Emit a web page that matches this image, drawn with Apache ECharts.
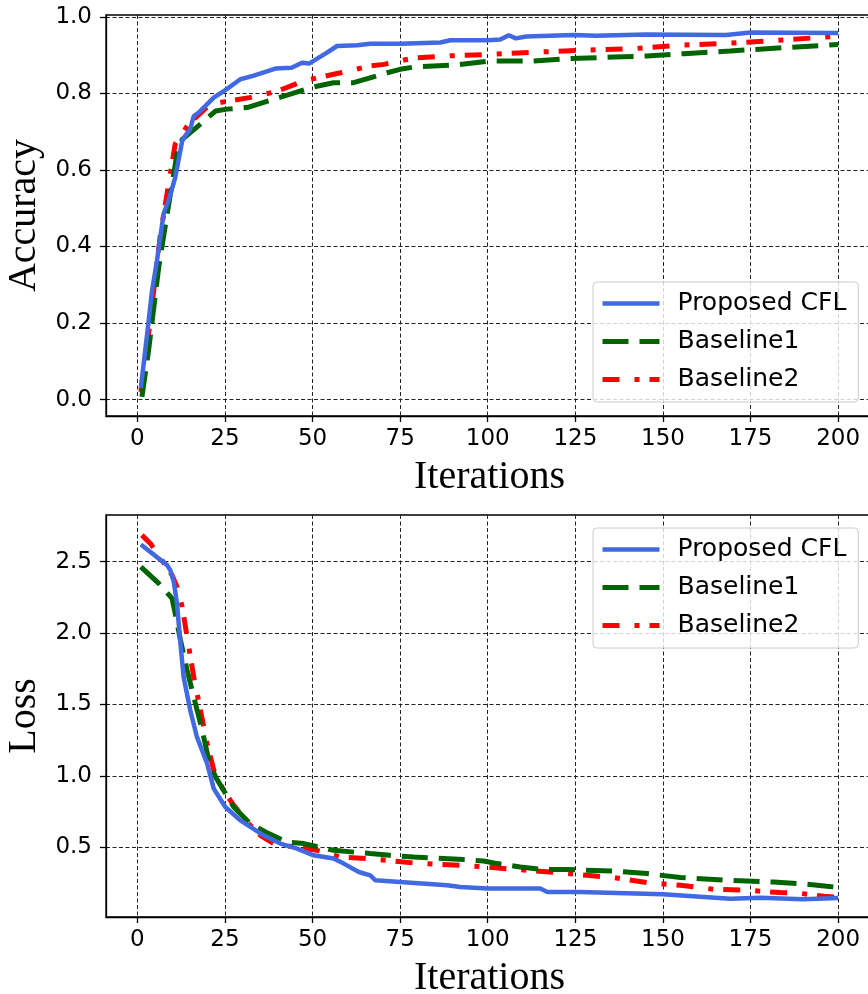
<!DOCTYPE html>
<html>
<head>
<meta charset="utf-8">
<script src="https://cdn.jsdelivr.net/npm/echarts@6/dist/echarts.min.js"></script>
<style>
  html, body { margin: 0; padding: 0; background: #fff; }
  #main { width: 868px; height: 994px; }
</style>
</head>
<body>
<div id="main"></div>
<script>
// 数据: [迭代次数, 数值]
var xTicks = [0, 25, 50, 75, 100, 125, 150, 175, 200];
var accTicks = [0, 0.2, 0.4, 0.6, 0.8, 1.0];
var lossTicks = [0.5, 1.0, 1.5, 2.0, 2.5];
var seriesNames = ['Proposed CFL', 'Baseline1', 'Baseline2'];

var accCfl = [[1,0.03],[2.8,0.172],[4.2,0.285],[5.6,0.363],[7.5,0.486],[8.9,0.52],[10.8,0.58],[12.8,0.676],[13.7,0.69],[15.1,0.707],[16.1,0.741],[17.5,0.75],[21.8,0.789],[25,0.808],[29.4,0.837],[33,0.846],[39.4,0.865],[44,0.867],[47,0.88],[49,0.878],[54,0.906],[57,0.924],[62.7,0.926],[66.5,0.93],[75,0.93],[86.5,0.933],[89.3,0.939],[100,0.939],[103.6,0.941],[106,0.952],[108,0.944],[111,0.949],[124.5,0.953],[131,0.951],[145,0.954],[168,0.953],[175,0.959],[200,0.958]];
var accB1 = [[1.3,0.007],[3.2,0.128],[6.1,0.346],[8.5,0.485],[11.3,0.641],[12.8,0.68],[18,0.72],[22.3,0.754],[25.6,0.759],[31.3,0.763],[38.9,0.785],[50.3,0.817],[56,0.828],[61.7,0.828],[71.3,0.854],[75,0.863],[78.9,0.869],[90.3,0.874],[100.7,0.885],[113,0.885],[123.6,0.891],[136,0.895],[145.4,0.898],[156,0.904],[169.2,0.911],[179.7,0.917],[200,0.928]];
var accB2 = [[1,0.02],[3.2,0.172],[6.6,0.433],[9.4,0.589],[10.8,0.668],[11.7,0.68],[14.6,0.72],[20.8,0.772],[26,0.78],[32,0.789],[40,0.806],[47.5,0.833],[58,0.854],[66.5,0.872],[70.3,0.876],[75,0.885],[79,0.893],[88.4,0.898],[100.7,0.902],[114,0.908],[127.4,0.913],[141.6,0.917],[155,0.926],[168.3,0.931],[179.7,0.937],[196,0.947],[200,0.95]];

var lossCfl = [[1,2.62],[8.5,2.476],[9.4,2.441],[10.4,2.359],[11.3,2.208],[12.3,1.927],[13.2,1.693],[15.1,1.46],[17,1.273],[19.9,1.087],[21.8,0.911],[25.1,0.782],[29.4,0.689],[36,0.584],[40.8,0.526],[45.6,0.491],[50.3,0.444],[56,0.421],[58.9,0.386],[63.2,0.327],[66.5,0.304],[67.9,0.269],[75,0.257],[88.4,0.234],[92.2,0.222],[100,0.211],[115,0.211],[117,0.187],[126.4,0.187],[150,0.171],[169.2,0.14],[177.8,0.147],[190,0.136],[200,0.145]];
var lossB1 = [[1,2.464],[6.1,2.348],[9.9,2.243],[10.8,2.138],[12.3,1.951],[14.2,1.74],[16.1,1.553],[18.5,1.32],[20.4,1.11],[22.3,0.993],[24.6,0.9],[27.5,0.782],[32.2,0.666],[37.5,0.596],[42.7,0.537],[47.5,0.526],[56,0.479],[66.5,0.456],[72,0.444],[78.9,0.432],[93.1,0.414],[98.8,0.404],[102.7,0.386],[109.3,0.362],[116,0.344],[122.6,0.344],[135.9,0.334],[145.4,0.316],[155,0.288],[169.2,0.269],[181.6,0.257],[191.1,0.241],[196.8,0.227],[200,0.22]];
var lossB2 = [[1.3,2.686],[3.7,2.628],[7,2.511],[9.9,2.406],[11.3,2.324],[12.8,2.184],[14.2,1.974],[16.1,1.693],[18,1.46],[19.9,1.227],[21.8,1.04],[24.6,0.899],[27.5,0.794],[31.3,0.677],[35.1,0.584],[38.9,0.526],[44.6,0.502],[51.3,0.479],[57.9,0.432],[65.5,0.421],[72.5,0.406],[78.9,0.39],[92.2,0.374],[99.8,0.362],[107.4,0.346],[119.8,0.323],[128.3,0.304],[135.9,0.288],[145.4,0.253],[155,0.234],[164.5,0.206],[174,0.199],[183.5,0.183],[188.3,0.18],[195.9,0.157],[200,0.15]];

var myChart = echarts.init(document.getElementById('main'));

var tickFont = { fontFamily: 'DejaVu Sans', fontSize: 23, color: '#000' };
var nameFont = { fontFamily: 'Liberation Serif', fontSize: 40, color: '#000' };
var gridLine = { show: true, lineStyle: { color: '#222', width: 1, type: [4, 2.5] } };

// 线型: 实线 / 虚线 / 点划线
var lineStyles = [
    { color: '#4169E1', width: 4.5, type: 'solid' },
    { color: '#006400', width: 5, type: [26, 11] },
    { color: '#FF0000', width: 5, type: [17, 15, 5, 10] }
];

function xAxisOf(idx) {
    return {
        type: 'value', gridIndex: idx, min: -8.95, max: 209.95,
        name: 'Iterations', nameLocation: 'middle', nameGap: 41, nameTextStyle: nameFont,
        axisLine: { show: true, onZero: false, lineStyle: { color: '#000', width: 1.3 } },
        axisTick: { show: true, length: 6, customValues: xTicks, lineStyle: { color: '#000', width: 1.3 } },
        axisLabel: { customValues: xTicks, margin: 12, fontFamily: tickFont.fontFamily, fontSize: tickFont.fontSize, color: '#000' },
        splitLine: gridLine
    };
}

function yAxisOf(idx, name, lo, hi, ticks) {
    return {
        type: 'value', gridIndex: idx, min: lo, max: hi,
        name: name, nameLocation: 'middle', nameGap: 57, nameTextStyle: nameFont,
        axisLine: { show: true, onZero: false, lineStyle: { color: '#000', width: 1.3 } },
        axisTick: { show: true, length: 6, customValues: ticks, lineStyle: { color: '#000', width: 1.3 } },
        axisLabel: {
            customValues: ticks, margin: 14, fontFamily: tickFont.fontFamily, fontSize: tickFont.fontSize, color: '#000',
            formatter: function (v) { return v.toFixed(1); }
        },
        splitLine: gridLine
    };
}

function legendOf(top) {
    return {
        data: seriesNames, orient: 'vertical', left: 593, top: top,
        padding: [9, 12, 10, 7], itemGap: 13, itemWidth: 57, itemHeight: 14,
        backgroundColor: 'rgba(255,255,255,0.8)', borderColor: '#cccccc', borderWidth: 1, borderRadius: 4,
        lineStyle: { width: 'inherit', type: 'inherit' },
        // 隐藏图例里的圆点, 只保留线
        itemStyle: { color: 'rgba(0,0,0,0)', borderWidth: 0, opacity: 0 },
        textStyle: { fontFamily: 'DejaVu Sans', fontSize: 25, lineHeight: 25, color: '#000', padding: [0, 0, 0, 13] }
    };
}

var datasets = [[accCfl, accB1, accB2], [lossCfl, lossB1, lossB2]];
var series = [];
for (var g = 0; g < 2; g++) {
    for (var i = 0; i < 3; i++) {
        series.push({
            type: 'line', name: seriesNames[i], xAxisIndex: g, yAxisIndex: g,
            data: datasets[g][i], symbol: 'none', showSymbol: false,
            lineStyle: lineStyles[i], itemStyle: { color: lineStyles[i].color },
            z: 3 - i
        });
    }
}

var option = {
    animation: false,
    backgroundColor: '#fff',
    grid: [
        { left: 106, top: 15, width: 767, height: 401, outerBoundsMode: 'none', containLabel: false,
          show: true, borderColor: '#000', borderWidth: 1.3, backgroundColor: 'transparent' },
        { left: 106, top: 515, width: 767, height: 402, outerBoundsMode: 'none', containLabel: false,
          show: true, borderColor: '#000', borderWidth: 1.3, backgroundColor: 'transparent' }
    ],
    legend: [legendOf(282), legendOf(528)],
    xAxis: [xAxisOf(0), xAxisOf(1)],
    yAxis: [
        yAxisOf(0, 'Accuracy', -0.043, 1.005, accTicks),
        yAxisOf(1, 'Loss', 0.012, 2.827, lossTicks)
    ],
    series: series
};

myChart.setOption(option);
</script>
</body>
</html>
